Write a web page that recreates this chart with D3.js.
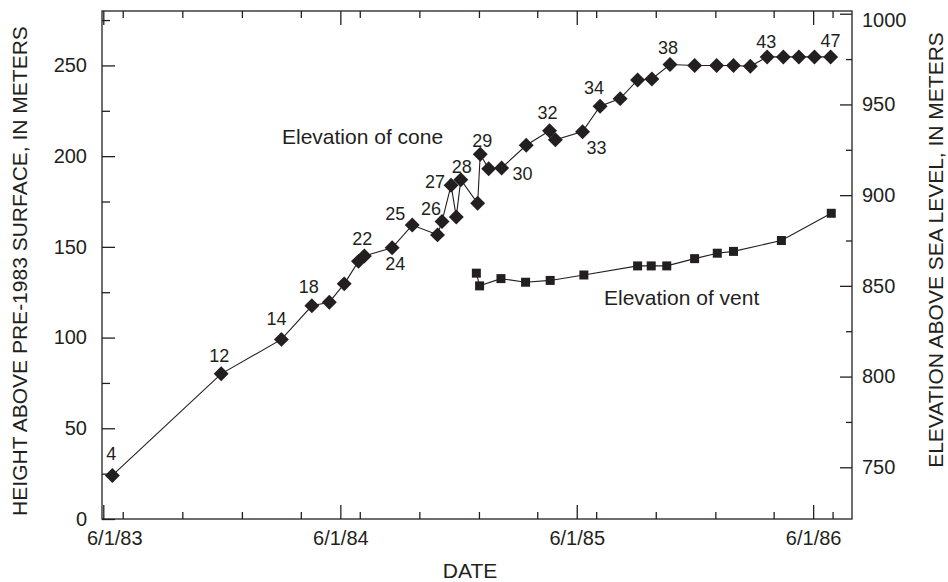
<!DOCTYPE html>
<html>
<head>
<meta charset="utf-8">
<script src="https://cdn.jsdelivr.net/npm/d3@7"></script>
<style>
  body { margin: 0; background: #fff; }
  text { font-family: "Liberation Sans", Arial, sans-serif; fill: #231f20; }
</style>
</head>
<body>
<div id="chart"></div>
<script>
// cone height above pre-1983 surface (m), one entry per survey
const coneDates = [
  "1983-06-15", "1983-11-30", "1984-03-02", "1984-04-18", "1984-05-15", "1984-06-07",
  "1984-06-29", "1984-07-08", "1984-08-20", "1984-09-20", "1984-10-29", "1984-11-05",
  "1984-11-19", "1984-11-27", "1984-12-04", "1984-12-30", "1985-01-03", "1985-01-16",
  "1985-02-05", "1985-03-15", "1985-04-20", "1985-04-29", "1985-06-10", "1985-07-07",
  "1985-08-07", "1985-09-03", "1985-09-25", "1985-10-23", "1985-11-30", "1986-01-03",
  "1986-01-29", "1986-02-24", "1986-03-22", "1986-04-16", "1986-05-10", "1986-06-03",
  "1986-06-28"
];
const coneHeights = [
  24, 80, 99, 117.5, 119.5, 129.6,
  142, 145, 149.5, 162, 156.6, 164,
  184, 166.5, 187, 174, 201, 193,
  193.5, 206, 214, 209, 213.5, 227.5,
  231.7, 242, 242.5, 250.5, 250, 250,
  250, 249.5, 254.7, 254.7, 254.7, 254.7,
  254.7
];
// episode numbers written next to some of the cone points
const coneLabels = [
  "4", "12", "14", "18", null, null,
  null, "22", "24", "25", null, "26",
  "27", null, "28", null, "29", null,
  "30", null, "32", null, "33", "34",
  null, null, null, "38", null, null,
  null, null, "43", null, null, null,
  "47"
];

// vent elevation above sea level (m)
const ventDates = [
  "1984-12-28", "1985-01-02", "1985-02-04", "1985-03-14", "1985-04-21", "1985-06-12",
  "1985-09-03", "1985-09-24", "1985-10-18", "1985-11-30", "1986-01-04", "1986-01-29",
  "1986-04-13", "1986-06-29"
];
const ventElevations = [
  857, 850, 854, 852, 853, 856,
  861, 861, 861, 865, 868, 869,
  875, 890
];

const dateTickLabels = ["6/1/83", "6/1/84", "6/1/85", "6/1/86"];
const heightTicks = [0, 50, 100, 150, 200, 250];
const elevationTicks = [750, 800, 850, 900, 950, 1000];

const width = 948, height = 582;
const margin = { top: 11, right: 96, bottom: 63, left: 102 };
const iw = width - margin.left - margin.right;
const ih = height - margin.top - margin.bottom;
const ink = "#231f20";

const parse = d3.timeParse("%Y-%m-%d");
const parseTick = d3.timeParse("%m/%d/%y");

const svg = d3.select("#chart").append("svg")
    .attr("width", width)
    .attr("height", height);

const g = svg.append("g").attr("transform", `translate(${margin.left},${margin.top})`);

const x = d3.scaleTime()
    .domain([parse("1983-05-30"), parse("1986-07-31")])
    .range([0, iw]);
const y = d3.scaleLinear().domain([0, 280]).range([ih, 0]);
const y2 = d3.scaleLinear().domain([721.5, 1001.5]).range([ih, 0]);

const majorDates = dateTickLabels.map(parseTick);
const quarterDates = d3.timeMonth.every(3).range(parse("1983-06-01"), x.domain()[1]);
const minorDates = quarterDates.filter(d => d.getMonth() !== 5);

function clean(sel) {
    sel.select(".domain").remove();
    sel.selectAll("line").attr("stroke", ink).attr("stroke-width", 1.3);
    sel.selectAll("text").attr("fill", ink).attr("font-family", null);
}

// bottom axis
g.append("g")
    .attr("transform", `translate(0,${ih})`)
    .call(d3.axisBottom(x).tickValues(majorDates).tickSizeInner(-14).tickSizeOuter(0)
        .tickPadding(12).tickFormat(d3.timeFormat("%-m/%-d/%y")))
    .call(clean)
    .call(s => s.selectAll("text").attr("font-size", 20))
    .call(s => s.select(".tick text").attr("dx", 11));
g.append("g")
    .attr("transform", `translate(0,${ih})`)
    .call(d3.axisBottom(x).tickValues(minorDates).tickSizeInner(-7).tickSizeOuter(0).tickFormat(""))
    .call(clean);

// top axis, ticks only
g.append("g")
    .call(d3.axisTop(x).tickValues(majorDates).tickSizeInner(-14).tickSizeOuter(0).tickFormat(""))
    .call(clean);
g.append("g")
    .call(d3.axisTop(x).tickValues(minorDates).tickSizeInner(-7).tickSizeOuter(0).tickFormat(""))
    .call(clean);

// left axis
g.append("g")
    .call(d3.axisLeft(y).tickValues(heightTicks).tickSizeInner(-13).tickSizeOuter(0).tickPadding(15))
    .call(clean)
    .call(s => s.selectAll("text").attr("font-size", 20));
g.append("g")
    .call(d3.axisLeft(y).tickValues(d3.range(25, 280, 50)).tickSizeInner(-8).tickSizeOuter(0).tickFormat(""))
    .call(clean);

// right axis
g.append("g")
    .attr("transform", `translate(${iw},0)`)
    .call(d3.axisRight(y2).tickValues(elevationTicks).tickSizeInner(-12).tickSizeOuter(0)
        .tickPadding(10).tickFormat(d3.format("d")))
    .call(clean)
    .call(s => s.selectAll("text").attr("font-size", 20))
    .call(s => s.selectAll(".tick text").filter(d => d === 1000).attr("dy", "0.62em"));
g.append("g")
    .attr("transform", `translate(${iw},0)`)
    .call(d3.axisRight(y2).tickValues(d3.range(775, 1000, 50)).tickSizeInner(-6).tickSizeOuter(0).tickFormat(""))
    .call(clean);

// frame
g.append("rect")
    .attr("width", iw).attr("height", ih)
    .attr("fill", "none").attr("stroke", ink).attr("stroke-width", 1.3);

// cone series
const cone = coneDates.map((d, i) => ({ date: parse(d), value: coneHeights[i], label: coneLabels[i] }));
const vent = ventDates.map((d, i) => ({ date: parse(d), value: ventElevations[i] }));

g.append("path")
    .datum(cone)
    .attr("fill", "none").attr("stroke", ink).attr("stroke-width", 1.1)
    .attr("d", d3.line().x(d => x(d.date)).y(d => y(d.value)));

const diamond = d3.symbol(d3.symbolSquare, 112);
g.append("g").selectAll("path")
    .data(cone)
    .enter().append("path")
    .attr("d", diamond)
    .attr("fill", ink)
    .attr("transform", d => `translate(${x(d.date)},${y(d.value)}) rotate(45)`);

// vent series
g.append("path")
    .datum(vent)
    .attr("fill", "none").attr("stroke", ink).attr("stroke-width", 1.1)
    .attr("d", d3.line().x(d => x(d.date)).y(d => y2(d.value)));

g.append("g").selectAll("rect")
    .data(vent)
    .enter().append("rect")
    .attr("x", d => x(d.date) - 4.5)
    .attr("y", d => y2(d.value) - 4.5)
    .attr("width", 9).attr("height", 9)
    .attr("fill", ink);

// where each episode number sits relative to its point (centre x, baseline y)
const labelOffsets = {
    "4": [-1, -15], "12": [-2, -12], "14": [-5, -14], "18": [-3, -13],
    "22": [-2, -11], "24": [3, 22], "25": [-17, -5], "26": [-11, -6],
    "27": [-16, 3], "28": [1, -7], "29": [2, -7], "30": [21, 12],
    "32": [-2, -12], "33": [14, 22], "34": [-6, -12], "38": [-2, -11],
    "43": [-1, -9], "47": [0, -10]
};

g.append("g").selectAll("text")
    .data(cone.filter(d => d.label))
    .enter().append("text")
    .attr("x", d => x(d.date) + labelOffsets[d.label][0])
    .attr("y", d => y(d.value) + labelOffsets[d.label][1])
    .attr("text-anchor", "middle")
    .attr("font-size", 18)
    .text(d => d.label);

// series names
g.append("text")
    .attr("x", 282 - margin.left).attr("y", 144 - margin.top)
    .attr("font-size", 21)
    .text("Elevation of cone");
g.append("text")
    .attr("x", 604 - margin.left).attr("y", 305 - margin.top)
    .attr("font-size", 21)
    .text("Elevation of vent");

// axis titles
svg.append("text")
    .attr("transform", `translate(27,${margin.top + ih / 2 + 6}) rotate(-90)`)
    .attr("text-anchor", "middle")
    .attr("font-size", 21)
    .text("HEIGHT ABOVE PRE-1983 SURFACE, IN METERS");
svg.append("text")
    .attr("transform", `translate(943,250) rotate(-90)`)
    .attr("text-anchor", "middle")
    .attr("font-size", 21)
    .text("ELEVATION ABOVE SEA LEVEL, IN METERS");
svg.append("text")
    .attr("x", margin.left + iw / 2 - 7).attr("y", 578)
    .attr("text-anchor", "middle")
    .attr("font-size", 21)
    .text("DATE");
</script>
</body>
</html>
